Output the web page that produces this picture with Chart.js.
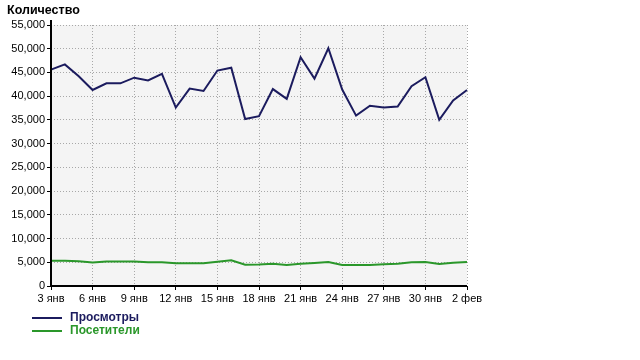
<!DOCTYPE html>
<html>
<head>
<meta charset="utf-8">
<script src="https://cdn.jsdelivr.net/npm/chart.js@4/dist/chart.umd.min.js"></script>
<style>
html,body{margin:0;padding:0;background:#fff;}
#wrap{position:relative;width:640px;height:360px;}
</style>
</head>
<body>
<div id="wrap"><canvas id="c" width="640" height="360"></canvas></div>
<script>
const categories = ["3 янв","4 янв","5 янв","6 янв","7 янв","8 янв","9 янв","10 янв","11 янв","12 янв","13 янв","14 янв","15 янв","16 янв","17 янв","18 янв","19 янв","20 янв","21 янв","22 янв","23 янв","24 янв","25 янв","26 янв","27 янв","28 янв","29 янв","30 янв","31 янв","1 фев","2 фев"];
const views = [45600,46700,44200,41300,42700,42700,43900,43300,44700,37600,41600,41100,45400,46000,35200,35800,41500,39450,48200,43700,50100,41400,35900,38000,37600,37800,42100,44000,35000,39100,41300];
const visitors = [5300,5300,5200,4950,5150,5150,5150,5000,5000,4800,4800,4800,5100,5400,4500,4550,4700,4450,4700,4850,5050,4450,4450,4450,4600,4700,5000,5050,4650,4900,5050];
const yTicks = [0,5000,10000,15000,20000,25000,30000,35000,40000,45000,50000,55000];
const seriesNames = ["Просмотры","Посетители"];
const seriesColors = ["#1b1b5e","#2a972a"];
const yTitle = "Количество";

const FONT = "'Liberation Sans', Arial, sans-serif";

const decor = {
  id: 'decor',
  beforeDraw(chart) {
    const {ctx, chartArea: a} = chart;
    ctx.save();
    ctx.fillStyle = '#f4f4f4';
    ctx.fillRect(a.left, a.top, a.right - a.left, a.bottom - a.top);
    ctx.restore();
  },
  afterDatasetsDraw(chart) {
    const {ctx, chartArea: a} = chart;
    ctx.save();
    ctx.strokeStyle = '#000';
    ctx.lineWidth = 2;
    ctx.beginPath();
    ctx.moveTo(a.left, a.top - 5);
    ctx.lineTo(a.left, a.bottom);
    ctx.lineTo(a.right, a.bottom);
    ctx.stroke();
    // title
    ctx.fillStyle = '#000';
    ctx.font = "bold 12.5px " + FONT;
    ctx.textBaseline = 'alphabetic';
    ctx.textAlign = 'left';
    ctx.fillText(yTitle, 7, 14);
    // legend
    for (let i = 0; i < seriesNames.length; i++) {
      const y = 318 + i * 13;
      ctx.strokeStyle = seriesColors[i];
      ctx.lineWidth = 2;
      ctx.beginPath();
      ctx.moveTo(32, y);
      ctx.lineTo(62, y);
      ctx.stroke();
      ctx.fillStyle = seriesColors[i];
      ctx.font = "bold 12px " + FONT;
      ctx.textBaseline = 'middle';
      ctx.fillText(seriesNames[i], 70, y);
    }
    ctx.restore();
  }
};

new Chart(document.getElementById('c'), {
  type: 'line',
  data: {
    labels: categories,
    datasets: [
      {label: seriesNames[0], data: views, borderColor: seriesColors[0], borderWidth: 2, pointRadius: 0, tension: 0, fill: false},
      {label: seriesNames[1], data: visitors, borderColor: seriesColors[1], borderWidth: 2, pointRadius: 0, tension: 0, fill: false}
    ]
  },
  options: {
    responsive: false,
    animation: false,
    layout: {padding: {top: 25, right: 173, left: 0, bottom: 0}},
    plugins: {legend: {display: false}, title: {display: false}, tooltip: {enabled: false}},
    scales: {
      x: {
        type: 'category',
        offset: false,
        afterFit(s) { s.height = 74; },
        border: {display: false, dash: [1, 2]},
        grid: {
          color: (c) => (c.index % 3 === 0 && c.index !== 0) ? '#a8a8a8' : 'transparent',
          borderDash: [1, 2],
          tickColor: (c) => (c.index % 3 === 0) ? '#000' : 'transparent',
          tickLength: 4,
          tickWidth: 1
        },
        ticks: {
          autoSkip: false,
          maxRotation: 0,
          padding: 2,
          color: '#000',
          font: {family: FONT, size: 11},
          callback: (v, i) => (i % 3 === 0 ? categories[i] : '')
        }
      },
      y: {
        min: 0,
        max: 55000,
        afterFit(s) { s.width = 51; },
        afterBuildTicks(s) { s.ticks = yTicks.map(v => ({value: v})); },
        border: {display: false, dash: [1, 2]},
        grid: {
          color: (c) => (c.tick && c.tick.value !== 0) ? '#a8a8a8' : 'transparent',
          borderDash: [1, 2],
          tickColor: '#000',
          tickLength: 4,
          tickWidth: 1
        },
        ticks: {
          color: '#000',
          padding: 2,
          font: {family: FONT, size: 11},
          callback: (v) => v.toLocaleString('en-US')
        }
      }
    }
  },
  plugins: [decor]
});
</script>
</body>
</html>
